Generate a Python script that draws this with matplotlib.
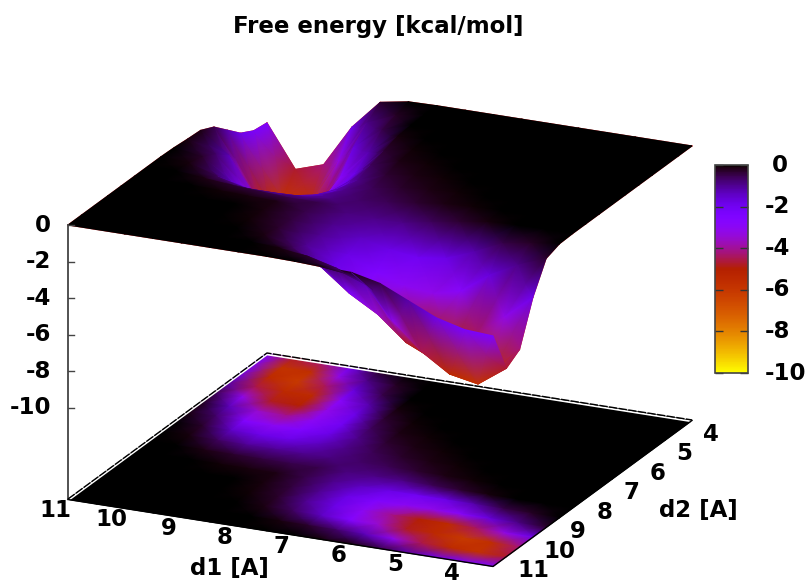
#!/usr/bin/env python
# -- coding: utf-8 --
import numpy as np
import matplotlib
matplotlib.use('Agg')
import matplotlib.pyplot as plt
from matplotlib.colors import ListedColormap

# free energy, rows are d2, columns are d1
d1_vals = [3.5, 4, 4.5, 5, 5.5, 6, 6.5, 7, 7.5, 8, 8.5, 9, 9.5, 10, 10.5, 11]
d2_vals = [3.5, 4, 4.5, 5, 5.5, 6, 6.5, 7, 7.5, 8, 8.5, 9, 9.5, 10, 10.5, 11]
row_35 = [0, 0, 0, 0, 0, 0, 0, 0, 0, 0, -.03, -.3, -1.9, -4.2, -4.7, -2.4]
row_40 = [0, 0, 0, 0, 0, 0, 0, 0, 0, 0, -.25, -.9, -3.2, -5.7, -5.8, -2.3]
row_45 = [0, 0, 0, 0, 0, 0, 0, 0, 0, -.03, -.5, -1.7, -4.4, -6.1, -5.5, -1.9]
row_50 = [0, 0, 0, 0, 0, 0, 0, 0, -.01, -.1, -1.2, -2.8, -5.5, -5.5, -4.5, -1.2]
row_55 = [0, 0, 0, 0, 0, 0, 0, -.02, -.05, -.35, -1.8, -3.2, -5.0, -4.8, -3.1, -.5]
row_60 = [0, 0, 0, 0, 0, 0, -.01, -.05, -.15, -.6, -2.0, -3.0, -4.1, -3.5, -1.3, -.15]
row_65 = [0, 0, 0, 0, 0, -.01, -.05, -.15, -.35, -.9, -1.8, -2.5, -3.0, -2.6, -.7, -.1]
row_70 = [0, 0, 0, 0, -.02, -.05, -.15, -.3, -.55, -.9, -1.4, -1.8, -1.8, -1.4, -.3, -.03]
row_75 = [0, 0, 0, -.01, -.05, -.15, -.35, -.55, -.7, -.85, -.95, -1.0, -1.0, -.6, -.1, 0]
row_80 = [0, 0, -.03, -.1, -.35, -.6, -.9, -.9, -.85, -.5, -.5, -.4, -.3, -.15, 0, 0]
row_85 = [-.03, -.25, -.5, -1.2, -1.8, -2.0, -1.8, -1.4, -.95, -.5, -.15, -.1, -.05, 0, 0, 0]
row_90 = [-.3, -.9, -1.7, -2.8, -3.2, -3.0, -2.5, -1.8, -1.0, -.4, -.1, 0, 0, 0, 0, 0]
row_95 = [-1.9, -3.2, -4.4, -5.5, -5.0, -4.1, -3.0, -1.8, -1.0, -.3, -.05, 0, 0, 0, 0, 0]
row_100 = [-4.2, -5.7, -6.1, -5.5, -4.8, -3.5, -2.6, -1.4, -.6, -.15, 0, 0, 0, 0, 0, 0]
row_105 = [-4.7, -5.8, -5.5, -4.5, -3.1, -1.3, -.7, -.3, -.1, 0, 0, 0, 0, 0, 0, 0]
row_110 = [-2.4, -2.3, -1.9, -1.2, -.5, -.15, -.1, -.03, 0, 0, 0, 0, 0, 0, 0, 0]
energy = np.array([row_35, row_40, row_45, row_50, row_55, row_60, row_65, row_70,
                   row_75, row_80, row_85, row_90, row_95, row_100, row_105, row_110])

d1_ticks = [4, 5, 6, 7, 8, 9, 10, 11]
d2_ticks = [4, 5, 6, 7, 8, 9, 10, 11]
z_ticks = [0, -2, -4, -6, -8, -10]
cb_ticks = [0, -2, -4, -6, -8, -10]

FLOOR = -15.0
FS = 16.5


def project(d1, d2, z):
    # gnuplot style view, result is in image pixels
    u = 11 - np.asarray(d1, dtype=float)
    v = 11 - np.asarray(d2, dtype=float)
    x = 68 + 56.67 * u + 26.53 * v
    y = 225 + 8.93 * u - 19.47 * v - 18.3 * np.asarray(z, dtype=float)
    return x, y


# palette 7,5,15 turned round, 0 is black and -10 is yellow
t = np.linspace(1, 0, 256)
cmap = ListedColormap(np.column_stack([np.sqrt(t), t ** 3, np.clip(np.sin(2 * np.pi * t), 0, 1)]))

fig = plt.figure(figsize=(8.07, 5.83), dpi=100)
ax = fig.add_axes([0, 0, 1, 1])
ax.set_xlim(0, 807)
ax.set_ylim(583, 0)
ax.axis('off')

# far side first: d2 going up and d1 going down, so the mesh paints back to front
D1, D2 = np.meshgrid(d1_vals[::-1], d2_vals)
Z = energy[:, ::-1]

# floor map
fx, fy = project(D1, D2, FLOOR + 0 * Z)
ax.pcolormesh(fx, fy, Z, shading='gouraud', cmap=cmap, vmin=-10, vmax=0, zorder=2)

# thin red lines that peek out round the surface
sx, sy = project(D1, D2, Z)
ax.plot(sx, sy, color='#d02020', lw=0.8, zorder=3)
ax.plot(sx.T, sy.T, color='#d02020', lw=0.8, zorder=3)
surf = ax.pcolormesh(sx, sy, Z, shading='gouraud', cmap=cmap, vmin=-10, vmax=0, zorder=4)

# box edges
ax_x, ax_y = project([11, 11], [11, 11], [0, FLOOR])
ax.plot(ax_x, ax_y, color='#444444', lw=1.3, zorder=5)
for z in z_ticks:
    tx, ty = project(11, 11, z)
    ax.plot([tx, tx + 6], [ty, ty], color='#444444', lw=1, zorder=5)
    ax.text(tx - 17, ty, str(z), ha='right', va='center', fontsize=FS, fontweight='bold')

bx, by = project([11, 11, 3.5], [11, 3.5, 3.5], [FLOOR] * 3)
ax.plot(bx, by + 1, color='white', lw=1.3, zorder=5)
ax.plot(bx, by - 0.5, color='black', lw=1, ls=(0, (6, 1)), zorder=5)
bx, by = project([11, 3.5, 3.5], [11, 11, 3.5], [FLOOR] * 3)
ax.plot(bx, by, color='black', lw=1, zorder=5)

for d in d1_ticks:
    tx, ty = project(d, 11, FLOOR)
    ax.text(tx - 13, ty + 11, str(d), ha='center', va='center', fontsize=FS, fontweight='bold')
for d in d2_ticks:
    tx, ty = project(3.5, d, FLOOR)
    ax.text(tx + 24, ty + 4, str(d), ha='left', va='center', fontsize=FS, fontweight='bold')

ax.text(229, 568, 'd1 [A]', ha='center', va='center', fontsize=FS, fontweight='bold')
ax.text(698, 511, 'd2 [A]', ha='center', va='center', fontsize=FS, fontweight='bold')
ax.text(378, 26, 'Free energy [kcal/mol]', ha='center', va='center', fontsize=FS, fontweight='bold')

# colour box on the right
cax = fig.add_axes([715 / 807, 1 - 373 / 583, 33 / 807, 208 / 583])
cb = fig.colorbar(surf, cax=cax)
cb.set_ticks(cb_ticks)
cb.set_ticklabels([])
cax.tick_params(direction='in', length=6, width=1, color='#333333', left=True, right=True)
for sp in cax.spines.values():
    sp.set_edgecolor('#444444')
    sp.set_linewidth(1.2)
for v in cb_ticks:
    ax.text(772 if v == 0 else 765, 165 + 20.8 * (-v), str(v), ha='left', va='center',
            fontsize=FS, fontweight='bold')

fig.savefig('out.png', dpi=100)
